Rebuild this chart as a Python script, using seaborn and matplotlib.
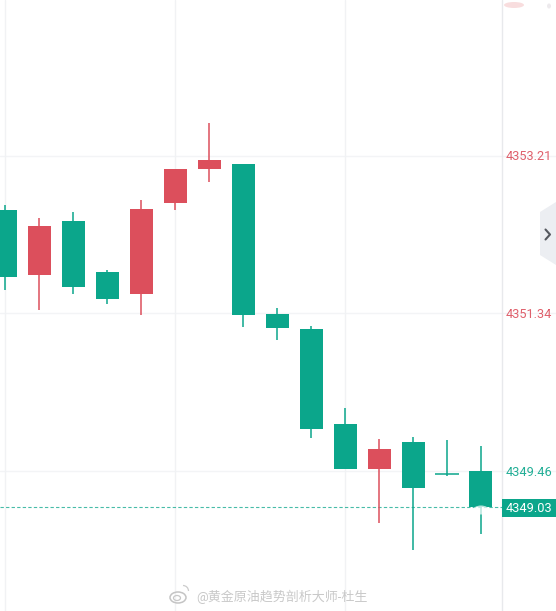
import matplotlib
matplotlib.use("Agg")
import matplotlib.pyplot as plt
import matplotlib.patches as mp
import numpy as np
import pandas as pd
import seaborn as sns

# candle values
opens  = [4352.57,4351.79,4352.44,4351.83,4351.57,4352.65,4353.06,4353.11,4351.33,4351.15,4350.02,4349.48,4349.81,4349.42,4349.46]
closes = [4351.77,4352.38,4351.65,4351.51,4352.58,4353.06,4353.16,4351.32,4351.16,4349.96,4349.48,4349.72,4349.26,4349.42,4349.03]
highs  = [4352.63,4352.47,4352.54,4351.85,4352.69,4353.06,4353.60,4353.11,4351.40,4351.19,4350.21,4349.84,4349.86,4349.83,4349.76]
lows   = [4351.61,4351.38,4351.57,4351.45,4351.32,4352.57,4352.90,4351.17,4351.02,4349.85,4349.48,4348.84,4348.52,4349.40,4348.71]
axis_ticks = [4353.21, 4351.34, 4349.46]
last_price = 4349.03
watermark = "@黄金原油趋势剖析大师-杜生"

RED, GREEN = "#dc4f5c", "#0ba68b"
W, H = 556, 611
PX_X, X0 = 33.97, 5.4
PX_Y = 84.0
def px_x(p): return (p - X0) / PX_X
def px_y(p): return 4353.21 - (p - 156) / PX_Y

sns.set_theme(style="white")
plt.rcParams['font.family'] = ['Roboto', 'Noto Sans CJK SC', 'DejaVu Sans']
fig = plt.figure(figsize=(W/100, H/100), dpi=100, facecolor="white")
ax = fig.add_axes([0, 0, 1, 1])

df = pd.DataFrame({"i": range(len(opens)), "o": opens, "c": closes, "h": highs, "l": lows})
df["up"] = df.c > df.o
df["top"] = df[["o", "c"]].max(axis=1)
df["bot"] = df[["o", "c"]].min(axis=1)
df["size"] = df.top - df.bot

# gridlines
for t in axis_ticks:
    ax.axhline(t, color="#f3f4f6", lw=1, zorder=0)
for xp in [5.4, 175.4, 345, 502]:
    ax.axvline(px_x(xp), color="#f1f2f4" if xp != 502 else "#e8e9ec", lw=1, zorder=0)

# wicks
wick = pd.concat([df[["i", "up", "h"]].rename(columns={"h": "p"}),
                  df[["i", "up", "l"]].rename(columns={"l": "p"})])
sns.lineplot(data=wick, x="i", y="p", units="i", estimator=None, hue="up",
             palette={True: RED, False: GREEN}, lw=1.1, legend=False, ax=ax, zorder=2,
             solid_capstyle="butt")

# bodies
for up, col in [(True, RED), (False, GREEN)]:
    s = df[df.up == up & (df["size"] > 0.001)] if False else df[(df.up == up) & (df["size"] > 0.001)]
    sns.barplot(x=s.i.values, y=s["size"].values, bottom=s.bot.values, native_scale=True,
                color=col, saturation=1, width=23/PX_X, errorbar=None, ax=ax,
                linewidth=0, zorder=3)

# doji bar
d = df[df["size"] <= 0.001]
ax.hlines(d.o, d.i - 12/PX_X, d.i + 12/PX_X, color=GREEN, lw=1.1, zorder=3)

ax.set_xlim(px_x(0), px_x(W))
ax.set_ylim(px_y(H), px_y(0))
ax.axis("off")

# last price line
ax.plot([px_x(0), px_x(502)], [last_price]*2, color=GREEN, lw=0.8, ls=(0, (3, 2)), alpha=0.75, zorder=1)

# pixel overlay
ov = fig.add_axes([0, 0, 1, 1], facecolor="none")
ov.set_xlim(0, W); ov.set_ylim(H, 0); ov.axis("off")

ov.add_patch(mp.Ellipse((481, 510), 16, 9, color="white", alpha=0.7, lw=0))
ov.add_patch(mp.Rectangle((502, 498.5), 54, 18.5, color=GREEN, lw=0))
ov.text(505.5, 508, f"{last_price:.2f}", color="white", fontsize=9.2, va="center", ha="left")
for t, col in zip(axis_ticks, [RED, RED, GREEN]):
    y = 156 + (4353.21 - t) * PX_Y
    ov.text(505.5, y + 1, f"{t:.2f}", color=col, fontsize=9.2, va="center", ha="left", alpha=0.9)

# side tab
ov.add_patch(mp.Polygon([(556, 202), (540, 212), (540, 255), (556, 265)], color="#eceef2", lw=0))
ov.plot([545.5, 550, 545.5], [229.5, 234.5, 239.5], color="#55585f", lw=1.5)

# faint smear at top
ov.add_patch(mp.Ellipse((514, 5), 20, 6, color="#f6cfd0", alpha=0.7, lw=0))
ov.add_patch(mp.Ellipse((549, 6), 4, 5, color="#e6e2e6", alpha=0.7, lw=0))

# watermark
ov.add_patch(mp.Ellipse((178, 597.5), 16, 11, fill=False, ec="#c4c4c4", lw=1.1))
ov.add_patch(mp.Ellipse((177, 598), 7, 5, fill=False, ec="#c8c8c8", lw=0.9))
ov.add_patch(mp.Arc((183, 591), 11, 11, theta1=270, theta2=360, ec="#cccccc", lw=0.9))
ov.text(196, 597, watermark, color="#c9c9c9", fontsize=9.4, va="center", ha="left")

fig.savefig("out.png", dpi=100)
